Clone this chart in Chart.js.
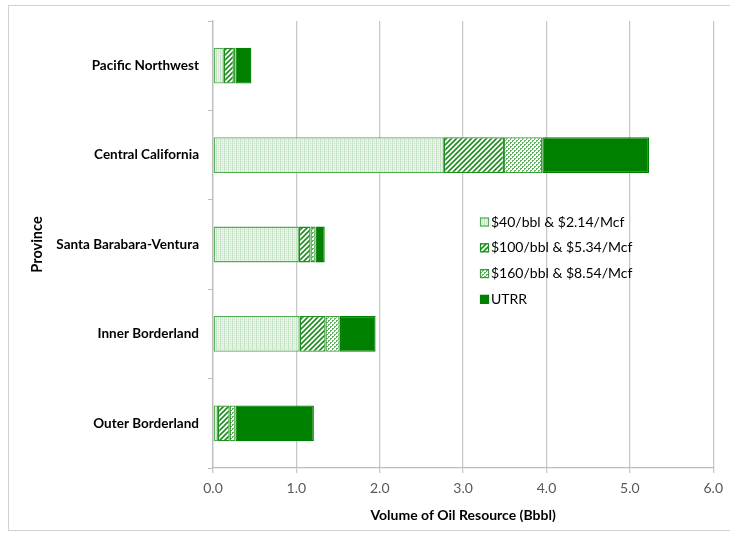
<!DOCTYPE html>
<html>
<head>
<meta charset="utf-8">
<script src="https://cdn.jsdelivr.net/npm/chart.js@4"></script>
<style>
  html, body { margin: 0; padding: 0; background: #fff; }
  #wrap { width: 730px; height: 533px; }
</style>
</head>
<body>
<div id="wrap"><canvas id="oilChart" width="730" height="533"></canvas></div>
<script>
const provinces = ['Pacific Northwest', 'Central California', 'Santa Barabara-Ventura', 'Inner Borderland', 'Outer Borderland'];
const seriesNames = ['$40/bbl & $2.14/Mcf', '$100/bbl & $5.34/Mcf', '$160/bbl & $8.54/Mcf', 'UTRR'];
const at40 = [0.13, 2.77, 1.03, 1.04, 0.06];
const at100 = [0.12, 0.72, 0.14, 0.31, 0.14];
const at160 = [0.02, 0.46, 0.06, 0.17, 0.07];
const utrr = [0.19, 1.28, 0.11, 0.43, 0.94];
const xMin = 0, xMax = 6, xStep = 1;

const FONT = 'Lato, "Open Sans", sans-serif';

// small canvas tiles used as bar fills
function tile(size, draw) {
  const c = document.createElement('canvas');
  c.width = size; c.height = size;
  const g = c.getContext('2d');
  g.fillStyle = '#fff';
  g.fillRect(0, 0, size, size);
  draw(g);
  return g.createPattern(c, 'repeat');
}

const fill40 = tile(4, g => {
  g.fillStyle = '#eaf5ea';
  g.fillRect(0, 0, 4, 4);
  g.fillStyle = '#c4e2c4';
  g.fillRect(0, 0, 1, 4);
  g.fillRect(2, 1, 1, 1);
  g.fillRect(2, 3, 1, 1);
});

const fill100 = tile(5, g => {
  g.strokeStyle = '#1e8c1e';
  g.lineWidth = 1.6;
  g.beginPath();
  g.moveTo(-1, 6); g.lineTo(6, -1);
  g.moveTo(-3, 3); g.lineTo(3, -3);
  g.moveTo(2, 8); g.lineTo(8, 2);
  g.stroke();
});

const fill160 = tile(4, g => {
  g.fillStyle = '#5fb35f';
  g.fillRect(0, 0, 2, 1);
  g.fillRect(0, 1, 1, 1);
  g.fillRect(2, 2, 2, 1);
  g.fillRect(2, 3, 1, 1);
});

const fills = [fill40, fill100, fill160, '#008000'];
const borders = ['#4fae4f', '#1e8c1e', '#3a9e3a', '#008000'];

const frame = {
  id: 'frame',
  beforeDraw(chart) {
    const ctx = chart.ctx;
    ctx.save();
    ctx.strokeStyle = '#d0d0d0';
    ctx.lineWidth = 1;
    ctx.strokeRect(8.5, 5.5, 740, 525);
    ctx.restore();
  }
};

const innerLegend = {
  id: 'innerLegend',
  afterDraw(chart) {
    const ctx = chart.ctx;
    ctx.save();
    ctx.font = '14px ' + FONT;
    ctx.textBaseline = 'middle';
    chart.data.datasets.forEach((ds, i) => {
      const y = 222 + i * 25.8;
      ctx.fillStyle = ds.backgroundColor;
      ctx.fillRect(480, y - 4.5, 9, 9);
      ctx.strokeStyle = ds.borderColor;
      ctx.lineWidth = 1.2;
      ctx.strokeRect(480.5, y - 4, 8, 8);
      ctx.fillStyle = '#000';
      ctx.fillText(ds.label, 491, y);
    });
    ctx.restore();
  }
};

new Chart(document.getElementById('oilChart'), {
  type: 'bar',
  data: {
    labels: provinces,
    datasets: [at40, at100, at160, utrr].map((d, i) => ({
      label: seriesNames[i],
      data: d,
      backgroundColor: fills[i],
      borderColor: borders[i],
      borderWidth: 1.3,
      borderSkipped: false,
      barPercentage: 0.4,
      categoryPercentage: 1
    }))
  },
  options: {
    indexAxis: 'y',
    responsive: false,
    animation: false,
    layout: { padding: { left: 29, top: 21, right: 16, bottom: 9 } },
    plugins: { legend: { display: false }, tooltip: { enabled: false } },
    scales: {
      x: {
        stacked: true,
        min: xMin, max: xMax,
        afterFit: s => { s.height = 56; },
        grid: { color: '#c8c8c8', lineWidth: 1.3, tickLength: 5 },
        border: { color: '#bdbdbd', width: 1.3 },
        ticks: {
          stepSize: xStep,
          padding: 7,
          color: '#595959',
          font: { family: FONT, size: 14 },
          callback: v => Number(v).toFixed(1)
        },
        title: {
          display: true,
          text: 'Volume of Oil Resource (Bbbl)',
          color: '#000',
          font: { family: FONT, size: 14, weight: 'bold' },
          padding: { top: 4, bottom: 0 }
        }
      },
      y: {
        stacked: true,
        afterFit: s => { s.width = 184; },
        grid: { drawOnChartArea: false, color: '#bdbdbd', tickLength: 5, offset: true },
        border: { color: '#bdbdbd', width: 1.3 },
        ticks: {
          color: '#000',
          padding: 9,
          font: { family: FONT, size: 13.5, weight: 'bold' }
        },
        title: {
          display: true,
          text: 'Province',
          color: '#000',
          font: { family: FONT, size: 14.5, weight: 'bold' },
          padding: { top: 0, bottom: 0 }
        }
      }
    }
  },
  plugins: [frame, innerLegend]
});
</script>
</body>
</html>
